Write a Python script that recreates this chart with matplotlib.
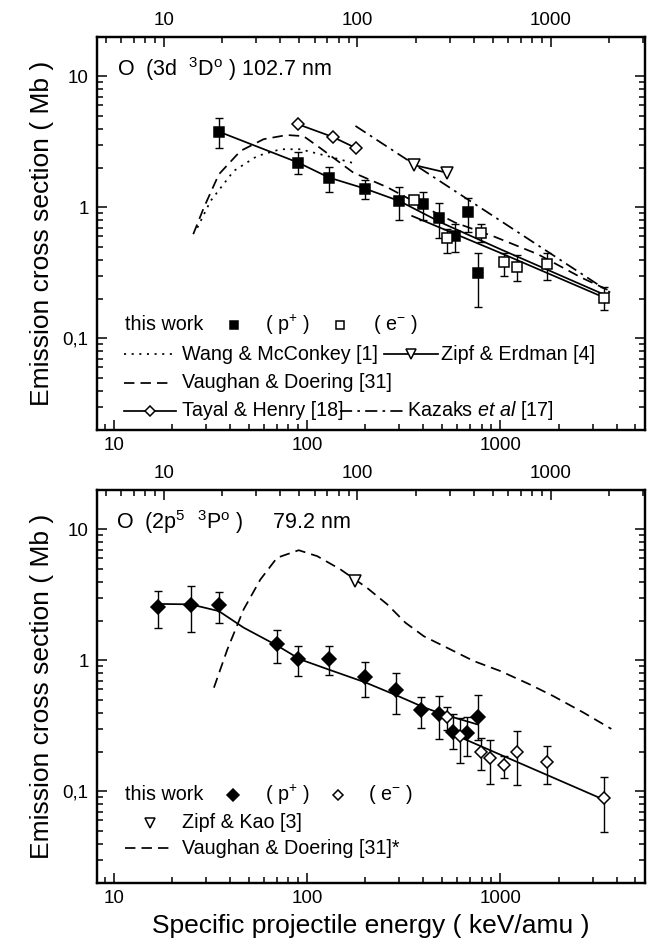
import matplotlib
matplotlib.use("Agg")
import matplotlib.pyplot as plt
from matplotlib.lines import Line2D
from matplotlib.ticker import FixedLocator, FixedFormatter, NullFormatter
import numpy as np

plt.rcParams['font.family'] = ['Liberation Sans', 'DejaVu Sans']
plt.rcParams['mathtext.fontset'] = 'custom'
plt.rcParams['mathtext.rm'] = 'Liberation Sans'
plt.rcParams['mathtext.it'] = 'Liberation Sans:italic'
plt.rcParams['mathtext.bf'] = 'Liberation Sans:bold'

# ---------------- data: top panel  O (3d 3D°) 102.7 nm ----------------
top_pp_E = [35, 90, 130, 200, 300, 400, 480, 580, 680, 770]
top_pp_s = [3.79, 2.2, 1.69, 1.39, 1.12, 1.07, 0.83, 0.60, 0.92, 0.315]
top_pp_lo = [2.86, 1.79, 1.32, 1.17, 0.80, 0.80, 0.58, 0.46, 0.65, 0.174]
top_pp_hi = [4.8, 2.67, 2.04, 1.61, 1.43, 1.32, 1.09, 0.745, 1.18, 0.45]

top_e_E = [356, 530, 790, 1050, 1220, 1750, 3450]
top_e_s = [1.14, 0.58, 0.64, 0.383, 0.348, 0.368, 0.205]
top_e_lo = [1.14, 0.45, 0.54, 0.30, 0.275, 0.28, 0.164]
top_e_hi = [1.14, 0.69, 0.745, 0.45, 0.43, 0.45, 0.245]

top_fitp_E = [35, 90, 130, 200, 300, 500, 1000, 3400]
top_fitp_s = [3.79, 2.2, 1.69, 1.39, 1.12, 0.76, 0.48, 0.218]
top_fite_E = [350, 1000, 3450]
top_fite_s = [0.86, 0.45, 0.205]

tayal_E = [90, 136, 180]
tayal_s = [4.31, 3.45, 2.83]
zipf_erdman_E = [356, 530]
zipf_erdman_s = [2.11, 1.84]
kazaks_E = [178, 3700]
kazaks_s = [4.19, 0.224]
wang_E = [27.1, 31.7, 41.8, 55.3, 72.9, 92.4, 127, 182]
wang_s = [0.70, 1.12, 1.9, 2.47, 2.78, 2.78, 2.47, 2.14]
vd_top_E = [25.8, 29.3, 35, 45.3, 59.7, 78.8, 96, 117.5, 174, 259, 425, 585, 940, 1560, 2640, 3700]
vd_top_s = [0.625, 1.0, 1.79, 2.7, 3.32, 3.57, 3.5, 2.83, 1.84, 1.43, 0.97, 0.765, 0.595, 0.44, 0.29, 0.23]

# ---------------- data: bottom panel  O (2p5 3P°) 79.2 nm ----------------
bot_pp_E = [17, 25, 35, 70, 90, 130, 200, 290, 390, 480, 570, 670, 770]
bot_pp_s = [2.55, 2.66, 2.63, 1.34, 1.03, 1.03, 0.746, 0.594, 0.416, 0.392, 0.284, 0.281, 0.369]
bot_pp_lo = [1.77, 1.65, 1.92, 0.96, 0.76, 0.78, 0.53, 0.387, 0.303, 0.253, 0.21, 0.188, 0.249]
bot_pp_hi = [3.38, 3.69, 3.32, 1.70, 1.30, 1.29, 0.97, 0.796, 0.525, 0.534, 0.387, 0.372, 0.543]

bot_e_E = [530, 617, 790, 880, 1050, 1220, 1740, 3450]
bot_e_s = [0.372, 0.264, 0.20, 0.181, 0.159, 0.20, 0.167, 0.0886]
bot_e_lo = [0.297, 0.164, 0.147, 0.113, 0.127, 0.111, 0.113, 0.049]
bot_e_hi = [0.44, 0.365, 0.257, 0.249, 0.186, 0.288, 0.222, 0.128]

bot_fitp_E = [17, 25, 35, 47, 70, 92, 130, 200, 300, 400, 500, 760]
bot_fitp_s = [2.7, 2.68, 2.38, 1.78, 1.3, 1.02, 0.85, 0.68, 0.53, 0.44, 0.39, 0.325]
bot_fite_E = [550, 3400]
bot_fite_s = [0.28, 0.087]

zipf_kao_E = [178]
zipf_kao_s = [4.03]
vd_bot_E = [33, 38.7, 47, 57.4, 70, 90.6, 113, 149, 204, 260, 323, 402, 530, 728, 1000, 1420, 1880, 2690, 3750]
vd_bot_s = [0.619, 1.21, 2.45, 4.15, 6.08, 6.94, 6.25, 4.95, 3.59, 2.68, 1.94, 1.53, 1.25, 0.99, 0.83, 0.656, 0.534, 0.40, 0.30]

x_ticks = [10, 100, 1000]
x_ticklabels = ['10', '100', '1000']
y_ticks = [0.1, 1, 10]
y_ticklabels = ['0,1', '1', '10']
EV_PER_KEVAMU = 0.5486   # electron energy (eV) with same velocity as 1 keV/amu

XLIM = (8.2, 5600)
YLIM = (0.02, 20)

W, H = 669, 949
fig = plt.figure(figsize=(W / 100, H / 100), dpi=100)


def rect(l, r, t, b):
    return [l / W, 1 - b / H, (r - l) / W, (b - t) / H]


def minor_list(lo, hi):
    out = []
    for d in range(-3, 5):
        for m in range(2, 10):
            v = m * 10.0 ** d
            if lo < v < hi:
                out.append(v)
    return out


def setup(ax):
    ax.set_xscale('log')
    ax.set_yscale('log')
    ax.set_xlim(*XLIM)
    ax.set_ylim(*YLIM)
    ax.xaxis.set_major_locator(FixedLocator(x_ticks))
    ax.xaxis.set_major_formatter(FixedFormatter(x_ticklabels))
    ax.xaxis.set_minor_locator(FixedLocator(minor_list(*XLIM)))
    ax.xaxis.set_minor_formatter(NullFormatter())
    ax.yaxis.set_major_locator(FixedLocator(y_ticks))
    ax.yaxis.set_major_formatter(FixedFormatter(y_ticklabels))
    ax.yaxis.set_minor_locator(FixedLocator(minor_list(*YLIM)))
    ax.yaxis.set_minor_formatter(NullFormatter())
    ax.tick_params(which='both', direction='in', top=False, right=True,
                   labelsize=13.5, width=1.1, pad=6)
    ax.tick_params(axis='x', which='both', pad=5)
    ax.tick_params(which='major', length=7)
    ax.tick_params(which='minor', length=4)
    for s in ax.spines.values():
        s.set_linewidth(1.6)
    ax.set_ylabel('Emission cross section ( Mb )', fontsize=19, labelpad=6)
    tw = ax.twiny()
    tw.set_xscale('log')
    tw.set_xlim(XLIM[0] * EV_PER_KEVAMU, XLIM[1] * EV_PER_KEVAMU)
    tw.xaxis.set_major_locator(FixedLocator(x_ticks))
    tw.xaxis.set_major_formatter(FixedFormatter(x_ticklabels))
    tw.xaxis.set_minor_locator(FixedLocator(minor_list(XLIM[0] * EV_PER_KEVAMU, XLIM[1] * EV_PER_KEVAMU)))
    tw.xaxis.set_minor_formatter(NullFormatter())
    tw.tick_params(which='both', direction='in', labelsize=13.5, width=1.1, pad=6)
    tw.tick_params(which='major', length=7)
    tw.tick_params(which='minor', length=4)
    for s in tw.spines.values():
        s.set_linewidth(1.6)
    return tw


def err(ax, E, s, lo, hi, marker, fc, ms):
    s = np.array(s)
    yerr = [s - np.array(lo), np.array(hi) - s]
    ax.errorbar(E, s, yerr=yerr, fmt='none', ecolor='black', elinewidth=1.0,
                capsize=2.8, capthick=1.0, zorder=3)
    ax.plot(E, s, linestyle='none', marker=marker, ms=ms, mfc=fc, mec='black',
            mew=1.1, zorder=4)


LW = 1.25
DASH = (0, (6, 3.5))
DOT = (0, (1.2, 3.2))
DASHDOT = (0, (7, 3, 1.5, 3))

# ---------------- top panel ----------------
ax1 = fig.add_axes(rect(97, 645, 37, 430))
setup(ax1)
ax1.plot(wang_E, wang_s, color='black', lw=LW, linestyle=DOT)
ax1.plot(vd_top_E, vd_top_s, color='black', lw=LW, linestyle=DASH)
ax1.plot(kazaks_E, kazaks_s, color='black', lw=LW, linestyle=DASHDOT)
ax1.plot(tayal_E, tayal_s, color='black', lw=LW, marker='D', ms=6.2, mfc='white', mec='black', mew=1.1)
ax1.plot(zipf_erdman_E, zipf_erdman_s, color='black', lw=LW, marker='v', ms=8.4, mfc='white', mec='black', mew=1.1)
ax1.plot(top_fitp_E, top_fitp_s, color='black', lw=LW)
ax1.plot(top_fite_E, top_fite_s, color='black', lw=LW)
err(ax1, top_pp_E, top_pp_s, top_pp_lo, top_pp_hi, 's', 'black', 7.6)
err(ax1, top_e_E, top_e_s, top_e_lo, top_e_hi, 's', 'white', 7.6)

# ---------------- bottom panel ----------------
ax2 = fig.add_axes(rect(97, 645, 490, 883))
setup(ax2)
ax2.set_xlabel('Specific projectile energy ( keV/amu )', fontsize=19, labelpad=5)
ax2.plot(vd_bot_E, vd_bot_s, color='black', lw=LW, linestyle=DASH)
ax2.plot(zipf_kao_E, zipf_kao_s, linestyle='none', marker='v', ms=8.4, mfc='white', mec='black', mew=1.1)
ax2.plot(bot_fitp_E, bot_fitp_s, color='black', lw=LW)
ax2.plot(bot_fite_E, bot_fite_s, color='black', lw=LW)
err(ax2, bot_pp_E, bot_pp_s, bot_pp_lo, bot_pp_hi, 'D', 'black', 6.8)
err(ax2, bot_e_E, bot_e_s, bot_e_lo, bot_e_hi, 'D', 'white', 6.0)

# ---------------- annotations / legends (pixel placement) ----------------
FS = 14.2


def txt(x, y, s, **kw):
    fig.text(x / W, 1 - y / H, s, fontsize=kw.pop('fontsize', FS), va='center', ha=kw.pop('ha', 'left'), **kw)


def sample(x1, x2, y, ls='-', marker=None, ms=7, mfc='white'):
    fig.add_artist(Line2D([x1 / W, x2 / W], [1 - y / H, 1 - y / H], transform=fig.transFigure,
                          color='black', lw=LW, linestyle=ls))
    if marker:
        fig.add_artist(Line2D([(x1 + x2) / 2 / W], [1 - y / H], transform=fig.transFigure,
                              marker=marker, ms=ms, mfc=mfc, mec='black', mew=1.1, linestyle='none'))


def mark(x, y, marker, ms, mfc):
    fig.add_artist(Line2D([x / W], [1 - y / H], transform=fig.transFigure,
                          marker=marker, ms=ms, mfc=mfc, mec='black', mew=1.1, linestyle='none'))


# top panel title & legend
txt(117, 69, r'O  (3d  $^{3}$D$^{\rm o}$ ) 102.7 nm', fontsize=15.5)
txt(125, 325, 'this work')
mark(234, 325, 's', 6.0, 'black')
txt(265, 325, r'( p$^{+}$ )')
mark(340, 325, 's', 6.0, 'white')
txt(373, 325, r'( e$^{-}$ )')
sample(124, 173, 354, ls=DOT)
txt(182, 354, 'Wang & McConkey [1]')
sample(384, 438, 354, marker='v', ms=7.5)
txt(441, 354, 'Zipf & Erdman [4]')
sample(124, 173, 383, ls=DASH)
txt(182, 383, 'Vaughan & Doering [31]')
sample(124, 176, 411, marker='D', ms=5.5)
txt(182, 411, 'Tayal & Henry [18]')
sample(340, 404, 411, ls=DASHDOT)
txt(407, 411, r'Kazaks $et\ al$ [17]')

# bottom panel title & legend
txt(116, 522, r'O  (2p$^{5}$  $^{3}$P$^{\rm o}$ )     79.2 nm', fontsize=15.5)
txt(125, 795, 'this work')
mark(233, 795, 'D', 6.0, 'black')
txt(265, 795, r'( p$^{+}$ )')
mark(338, 795, 'D', 5.5, 'white')
txt(368, 795, r'( e$^{-}$ )')
mark(150, 823, 'v', 7.5, 'white')
txt(182, 823, 'Zipf & Kao [3]')
sample(125, 170, 848, ls=DASH)
txt(182, 848, 'Vaughan & Doering [31]*')

fig.savefig('out.png', dpi=100)
